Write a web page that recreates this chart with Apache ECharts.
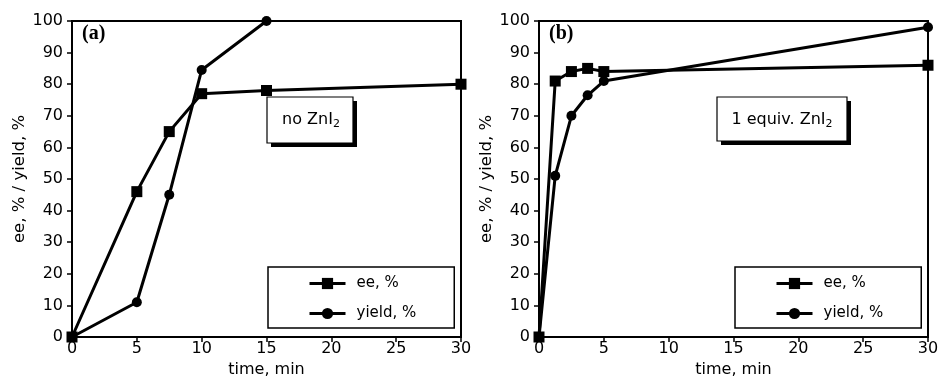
<!DOCTYPE html>
<html>
<head>
<meta charset="utf-8">
<script src="https://cdn.jsdelivr.net/npm/echarts@6.0.0/dist/echarts.min.js"></script>
<style>
  html, body { margin: 0; padding: 0; background: #fff; }
  #main { width: 940px; height: 386px; }
</style>
</head>
<body>
<div id="main"></div>
<script>
// panel (a): no ZnI2
var timeA = [0, 5, 7.5, 10, 15, 30];
var eeA = [0, 46, 65, 77, 78, 80];
var timeYieldA = [0, 5, 7.5, 10, 15];
var yieldA = [0, 11, 45, 84.5, 100];

// panel (b): 1 equiv. ZnI2
var timeB = [0, 1.25, 2.5, 3.75, 5, 30];
var eeB = [0, 81, 84, 85, 84, 86];
var yieldB = [0, 51, 70, 76.5, 81, 98];

var seriesNames = ['ee, %', 'yield, %'];

var font = 'DejaVu Sans';

function pairs(xs, ys) {
    var out = [];
    for (var i = 0; i < xs.length; i++) {
        out.push([xs[i], ys[i]]);
    }
    return out;
}

function makeX(idx) {
    return {
        type: 'value', gridIndex: idx, min: 0, max: 30, interval: 5,
        name: 'time, min', nameLocation: 'middle', nameGap: 21,
        nameTextStyle: {color: '#000', fontFamily: font, fontSize: 16},
        axisLine: {show: true, onZero: false, lineStyle: {color: '#000', width: 2}},
        axisTick: {show: true, inside: false, length: 5, lineStyle: {color: '#000', width: 1.5}},
        axisLabel: {color: '#000', fontFamily: font, fontSize: 16, margin: 4},
        splitLine: {show: false}
    };
}

function makeY(idx) {
    return {
        type: 'value', gridIndex: idx, min: 0, max: 100, interval: 10,
        name: 'ee, % / yield, %', nameLocation: 'middle', nameGap: 42, nameRotate: 90,
        nameTextStyle: {color: '#000', fontFamily: font, fontSize: 16.5},
        axisLine: {show: true, onZero: false, lineStyle: {color: '#000', width: 2}},
        axisTick: {show: true, inside: false, length: 5, lineStyle: {color: '#000', width: 1.5}},
        axisLabel: {color: '#000', fontFamily: font, fontSize: 16, margin: 9},
        splitLine: {show: false}
    };
}

function makeLine(name, data, idx, symbol) {
    return {
        name: name, type: 'line', xAxisIndex: idx, yAxisIndex: idx,
        data: data, symbol: symbol, symbolSize: symbol === 'rect' ? 11 : 10,
        clip: false,
        itemStyle: {color: '#000'},
        lineStyle: {color: '#000', width: 3},
        emphasis: {disabled: true}
    };
}

function makeLegend(left) {
    return {
        orient: 'vertical', left: left, top: 267,
        data: seriesNames,
        itemWidth: 36, itemHeight: 14, itemGap: 15,
        padding: [9, 38, 7, 40],
        borderColor: '#000', borderWidth: 1.5,
        lineStyle: {color: '#000', width: 3},
        itemStyle: {color: '#000'},
        textStyle: {color: '#000', fontFamily: font, fontSize: 15, padding: [0, 0, 0, 6]},
        selectedMode: false
    };
}

function noteBox(x, y, w, h, cx, txt) {
    return {
        type: 'group',
        children: [
            {type: 'rect', shape: {x: x + 4, y: y + 4, width: w, height: h}, style: {fill: '#000'}},
            {type: 'rect', shape: {x: x, y: y, width: w, height: h}, style: {fill: '#fff', stroke: '#000', lineWidth: 1.2}},
            {
                type: 'text', x: cx, y: y + 15,
                style: {
                    text: '{a|' + txt + '}{s|2}',
                    align: 'center', verticalAlign: 'top',
                    rich: {
                        a: {fontFamily: font, fontSize: 16, lineHeight: 16, verticalAlign: 'top', fill: '#000'},
                        s: {fontFamily: font, fontSize: 11, lineHeight: 18, verticalAlign: 'bottom', fill: '#000'}
                    }
                }
            }
        ]
    };
}

var chart = echarts.init(document.getElementById('main'));

var option = {
    animation: false,
    backgroundColor: '#fff',
    grid: [
        {left: 72, top: 21, width: 389, height: 316, show: true, borderColor: '#000', borderWidth: 2, outerBoundsMode: 'none'},
        {left: 539, top: 21, width: 389, height: 316, show: true, borderColor: '#000', borderWidth: 2, outerBoundsMode: 'none'}
    ],
    xAxis: [makeX(0), makeX(1)],
    yAxis: [makeY(0), makeY(1)],
    legend: [makeLegend(268), makeLegend(735)],
    series: [
        makeLine('yield, %', pairs(timeYieldA, yieldA), 0, 'circle'),
        makeLine('ee, %', pairs(timeA, eeA), 0, 'rect'),
        makeLine('yield, %', pairs(timeB, yieldB), 1, 'circle'),
        makeLine('ee, %', pairs(timeB, eeB), 1, 'rect')
    ],
    graphic: [
        {type: 'text', left: 82, top: 24, style: {text: '(a)', fontFamily: 'Liberation Serif', fontWeight: 'bold', fontSize: 20, fill: '#000'}},
        {type: 'text', left: 549, top: 24, style: {text: '(b)', fontFamily: 'Liberation Serif', fontWeight: 'bold', fontSize: 20, fill: '#000'}},
        noteBox(267, 97, 86, 46, 311, 'no ZnI'),
        noteBox(717, 97, 130, 44, 782, '1 equiv. ZnI')
    ]
};

chart.setOption(option);
</script>
</body>
</html>
